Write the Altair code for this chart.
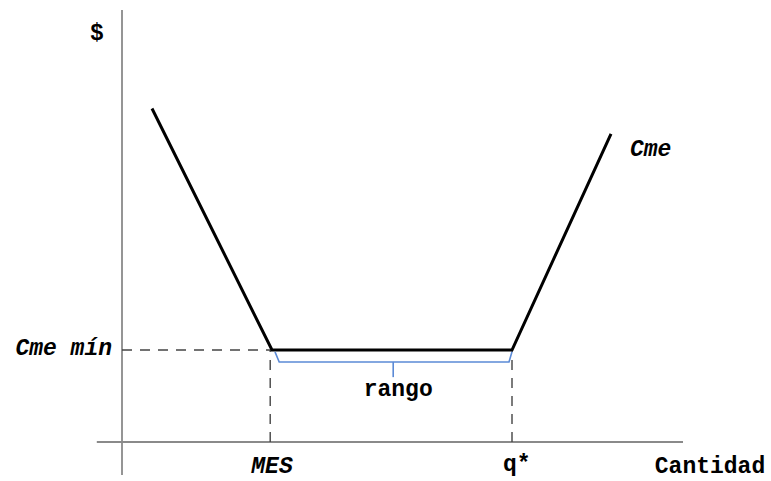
import altair as alt
import pandas as pd

# Average cost curve (Cme): falling, flat at the minimum between MES and q*, rising
quantity = [0.5, 2.5, 6.5, 8.15]
avg_cost = [7.25, 2.0, 2.0, 6.7]

MES = 2.5       # minimum efficient scale
Q_STAR = 6.5    # end of the flat stretch
CME_MIN = 2.0   # minimum average cost

# Axis extents (data units)
X_AXIS = [-0.42, 9.35]
Y_AXIS = [-0.72, 9.39]

FONT = "Liberation Mono"

x_scale = alt.Scale(domain=[-122 / 60, 649 / 60], nice=False, zero=False)
y_scale = alt.Scale(domain=[-39 / 46, 442 / 46], nice=False, zero=False)


def X(field="x"):
    return alt.X(f"{field}:Q", scale=x_scale, axis=None)


def Y(field="y"):
    return alt.Y(f"{field}:Q", scale=y_scale, axis=None)


# Axes drawn as plain lines
axes_df = pd.DataFrame({
    "x": [0, X_AXIS[0]], "x2": [0, X_AXIS[1]],
    "y": [Y_AXIS[0], 0], "y2": [Y_AXIS[1], 0],
})
axes = alt.Chart(axes_df).mark_rule(color="#8a8a8a", strokeWidth=1.8).encode(
    x=X(), x2="x2:Q", y=Y(), y2="y2:Q"
)

# Dashed guides to MES, q* and the minimum cost
guides_df = pd.DataFrame({
    "x": [0, MES - 0.03, Q_STAR], "x2": [MES, MES - 0.03, Q_STAR],
    "y": [CME_MIN, 0, 0], "y2": [CME_MIN, CME_MIN, CME_MIN],
})
guides = alt.Chart(guides_df).mark_rule(
    color="#444444", strokeWidth=1.4, strokeDash=[10, 8]
).encode(x=X(), x2="x2:Q", y=Y(), y2="y2:Q")

# The cost curve itself
curve_df = pd.DataFrame({"x": quantity, "y": avg_cost, "o": range(len(quantity))})
curve = alt.Chart(curve_df).mark_line(
    color="black", strokeWidth=3, strokeJoin="miter"
).encode(x=X(), y=Y(), order="o:O")

# Brace under the flat segment marking the "rango"
b_top = CME_MIN - 0.04
b_low = CME_MIN - 0.26
mid = (MES + Q_STAR) / 2 + 0.02
brace_df = pd.DataFrame({
    "x": [MES + 0.05, MES + 0.12, Q_STAR - 0.05, Q_STAR],
    "y": [b_top, b_low, b_low, b_top],
    "o": [0, 1, 2, 3],
})
brace = alt.Chart(brace_df).mark_line(color="#5b8ad6", strokeWidth=1.6).encode(
    x=X(), y=Y(), order="o:O"
)
tick = alt.Chart(pd.DataFrame({"x": [mid], "y": [b_low], "y2": [CME_MIN - 0.59]})).mark_rule(
    color="#5b8ad6", strokeWidth=1.6
).encode(x=X(), y=Y(), y2="y2:Q")


def label(text, x, y, align="center", baseline="alphabetic", dx=0, dy=0, italic=False):
    return alt.Chart(pd.DataFrame({"x": [x], "y": [y], "t": [text]})).mark_text(
        font=FONT, fontSize=23, fontWeight="bold",
        fontStyle="italic" if italic else "normal",
        align=align, baseline=baseline, dx=dx, dy=dy, color="black",
    ).encode(x=X(), y=Y(), text="t:N")


labels = [
    label("$", 0, Y_AXIS[1], dx=-25, dy=30),
    label("Cme mín", 0, CME_MIN, align="right", dx=-10, dy=5, italic=True),
    label("MES", MES, 0, dy=31, italic=True),
    label("q*", Q_STAR, 0, align="left", dx=-9, dy=29),
    label("Cantidad", 9.8, 0, dy=31),
    label("rango", mid, CME_MIN, dx=5, dy=46),
    label("Cme", quantity[-1], avg_cost[-1], align="left", dx=19, dy=22, italic=True),
]

chart = alt.layer(axes, guides, curve, brace, tick, *labels).properties(
    width=771, height=481,
    autosize=alt.AutoSizeParams(type="none"),
    padding=0,
    background="white",
).configure_view(strokeWidth=0)

chart.save("out.html", embed_options={"renderer": "svg", "actions": False})
